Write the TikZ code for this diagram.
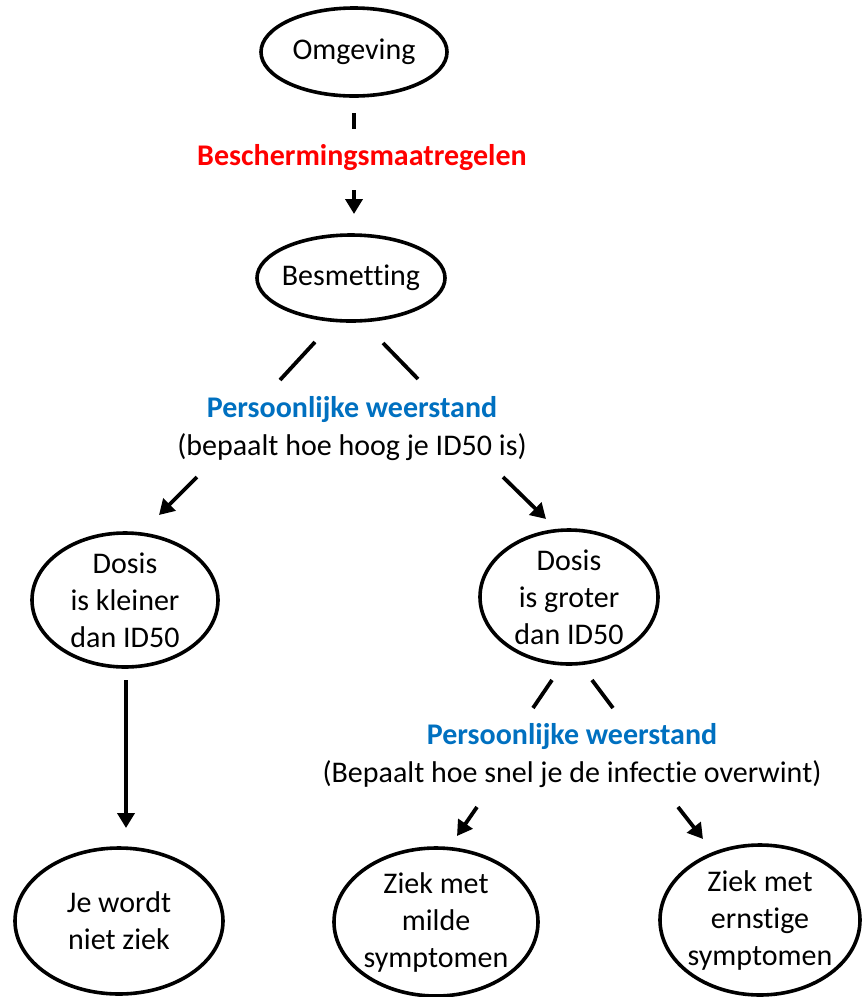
\documentclass[tikz,border=0pt]{standalone}
\usepackage{fontspec}
\setmainfont{Carlito}[Ligatures=NoCommon]
\usetikzlibrary{calc,shapes.geometric,arrows.meta}
\definecolor{maatred}{RGB}{255,0,0}
\definecolor{weerblue}{RGB}{0,112,192}
\tikzset{
	oval/.style={draw, ellipse, line width=3.6pt, inner sep=0pt},
	ovaltext/.style={align=center, inner sep=0pt, font=\fontsize{30}{37}\selectfont},
	uitleg/.style={align=center, inner sep=0pt, font=\fontsize{30}{38}\selectfont},
	lijn/.style={line width=3.8pt},
	pijl/.style={line width=3.8pt, -{Triangle[length=15pt,width=17pt]}}
}

\begin{document}
\begin{tikzpicture}[x=1pt, y=-1pt]
		%%%%% START %%%%%
		\useasboundingbox (0, 0) rectangle (862, 997);
		
		\node[oval, minimum width=186, minimum height=88, label={[ovaltext]center:Omgeving}] (omgeving) at (354, 52) {};
		\node[oval, minimum width=188, minimum height=86, label={[ovaltext]center:Besmetting}] (besmetting) at (351, 278) {};
		
		\node[uitleg, text=maatred, font=\fontsize{30}{37}\selectfont\bfseries] (maatregel) at (362, 158) {Beschermingsmaatregelen};
		\node[uitleg] (weerstand1) at (352, 429) {\textcolor{weerblue}{\bfseries Persoonlijke weerstand}\\(bepaalt hoe hoog je ID50 is)};
		
		\node[oval, minimum width=186, minimum height=134, label={[ovaltext]center:Dosis\\is kleiner\\dan ID50}] (kleiner) at (125, 600) {};
		\node[oval, minimum width=178, minimum height=134, label={[ovaltext]center:Dosis\\is groter\\dan ID50}] (groter) at (569, 597) {};
		
		\node[uitleg] (weerstand2) at (572, 756) {\textcolor{weerblue}{\bfseries Persoonlijke weerstand}\\(Bepaalt hoe snel je de infectie overwint)};
		
		\node[oval, minimum width=208, minimum height=146, label={[ovaltext]center:Je wordt\\niet ziek}] (nietziek) at (119, 921) {};
		\node[oval, minimum width=204, minimum height=148, label={[ovaltext]center:Ziek met\\milde\\symptomen}] (mild) at (436, 922) {};
		\node[oval, minimum width=200, minimum height=150, label={[ovaltext]center:Ziek met\\ernstige\\symptomen}] (ernstig) at (760, 920) {};
		
		% losse stukjes lijn
		\coordinate (o1) at (354, 113);
		\coordinate (o2) at (354, 129);
		\coordinate (o3) at (354, 190);
		\coordinate (o4) at (354, 214);
		\draw[lijn] (o1) -- (o2);
		\draw[pijl] (o3) -- (o4);
		
		\coordinate (b1) at (315, 342);
		\coordinate (b2) at (280, 380);
		\coordinate (b3) at (383, 343);
		\coordinate (b4) at (418, 379);
		\draw[lijn] (b1) -- (b2);
		\draw[lijn] (b3) -- (b4);
		
		\coordinate (w1) at (197, 477);
		\coordinate (w2) at (159, 515);
		\coordinate (w3) at (503, 477);
		\coordinate (w4) at (546, 519);
		\draw[pijl] (w1) -- (w2);
		\draw[pijl] (w3) -- (w4);
		
		\coordinate (k1) at (126, 680);
		\coordinate (k2) at (126, 828);
		\draw[pijl] (k1) -- (k2);
		
		\coordinate (g1) at (552, 680);
		\coordinate (g2) at (533, 708);
		\coordinate (g3) at (592, 680);
		\coordinate (g4) at (613, 708);
		\draw[lijn] (g1) -- (g2);
		\draw[lijn] (g3) -- (g4);
		
		\coordinate (v1) at (477, 807);
		\coordinate (v2) at (457, 836);
		\coordinate (v3) at (678, 807);
		\coordinate (v4) at (703, 839);
		\draw[pijl] (v1) -- (v2);
		\draw[pijl] (v3) -- (v4);
		
		%%%%% END %%%%%
	\end{tikzpicture}
\end{document}
